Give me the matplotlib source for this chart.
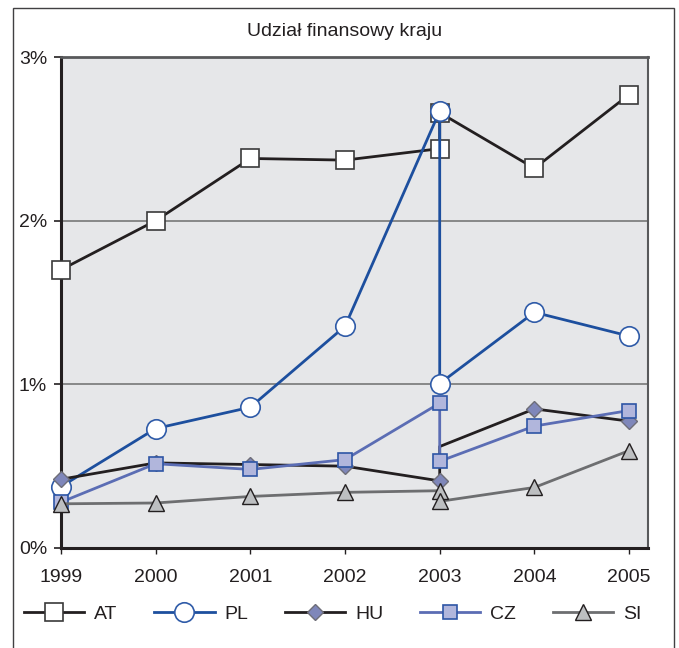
import matplotlib
matplotlib.use("Agg")
import matplotlib.pyplot as plt
from matplotlib.patches import Rectangle
from matplotlib.ticker import FixedLocator

plt.rcParams['font.family'] = ['Liberation Sans', 'DejaVu Sans']

title = "Udział finansowy kraju"
years = [1999, 2000, 2001, 2002, 2003, 2003, 2004, 2005]
tick_years = [1999, 2000, 2001, 2002, 2003, 2004, 2005]
y_ticks = [0, 1, 2, 3]
y_labels = ["0%", "1%", "2%", "3%"]

AT = [1.70, 2.00, 2.38, 2.37, 2.44, 2.66, 2.32, 2.77]
PL = [0.375, 0.73, 0.86, 1.355, 2.67, 1.005, 1.44, 1.295]
HU = [0.42, 0.52, 0.51, 0.50, 0.41, 0.62, 0.85, 0.775]
CZ = [0.28, 0.515, 0.48, 0.54, 0.885, 0.53, 0.745, 0.84]
SI = [0.27, 0.275, 0.315, 0.34, 0.35, 0.285, 0.37, 0.595]

W, H = 679, 648
FS = 14
fig = plt.figure(figsize=(W / 100, H / 100), dpi=100)
ax = fig.add_axes([61 / W, 1 - 548 / H, (648 - 61) / W, (548 - 57) / H])
ax.set_facecolor('#E6E7E9')

ax.set_xlim(1999, 2005.2)
ax.set_ylim(0, 3)

for g in [1, 2]:
    ax.axhline(g, color='#808080', lw=1.3, zorder=1)

common = dict(clip_on=False, zorder=3)
ax.plot(years, AT, color='#231F20', lw=2.0, marker='s', ms=13, mfc='white',
        mec='#3a3a3a', mew=1.2, label='AT', **common)
ax.plot(years, PL, color='#1D4F9E', lw=2.0, marker='o', ms=14, mfc='white',
        mec='#2F5BA8', mew=1.2, label='PL', **common)
ax.plot(years, HU, color='#231F20', lw=2.0, marker='D', ms=8.5, mfc='#7F87BA',
        mec='#6E6E78', mew=1.0, markevery=[0, 1, 2, 3, 4, 6, 7], label='HU', **common)
ax.plot(years, CZ, color='#5B6DB4', lw=2.0, marker='s', ms=9.5, mfc='#B1B6DC',
        mec='#2E55A5', mew=1.2, label='CZ', **common)
ax.plot(years, SI, color='#6D6E70', lw=2.0, marker='^', ms=11, mfc='#BDBFC1',
        mec='#231F20', mew=1.0, label='SI', **common)

ax.xaxis.set_major_locator(FixedLocator(tick_years))
ax.set_xticklabels([str(y) for y in tick_years])
ax.yaxis.set_major_locator(FixedLocator(y_ticks))
ax.set_yticklabels(y_labels)
ax.tick_params(axis='both', labelsize=FS, colors='#231F20', direction='out')
ax.tick_params(axis='y', length=5, width=1.2, pad=5)
ax.tick_params(axis='x', length=4, width=1.0, pad=11)

ax.spines['left'].set_color('#231F20')
ax.spines['left'].set_linewidth(2.2)
ax.spines['bottom'].set_color('#231F20')
ax.spines['bottom'].set_linewidth(2.2)
ax.spines['top'].set_color('#58595B')
ax.spines['top'].set_linewidth(2.0)
ax.spines['right'].set_color('#58595B')
ax.spines['right'].set_linewidth(1.5)

fig.text(345 / W, 1 - 32 / H, title, ha='center', va='center', fontsize=FS, color='#231F20')

leg = fig.legend(loc='center left', bbox_to_anchor=(24 / W, 1 - 614 / H),
                 bbox_transform=fig.transFigure, ncol=5, frameon=False,
                 fontsize=FS, handlelength=3.1, handletextpad=0.5,
                 columnspacing=1.9, numpoints=1, borderpad=0, borderaxespad=0)
for t in leg.get_texts():
    t.set_color('#231F20')

frame = Rectangle((13 / W, -0.02), (674 - 13) / W, 1 - 8 / H + 0.02,
                  transform=fig.transFigure, fill=False, edgecolor='#414042', lw=1.0)
fig.patches.append(frame)

fig.savefig('out.png', dpi=100)
